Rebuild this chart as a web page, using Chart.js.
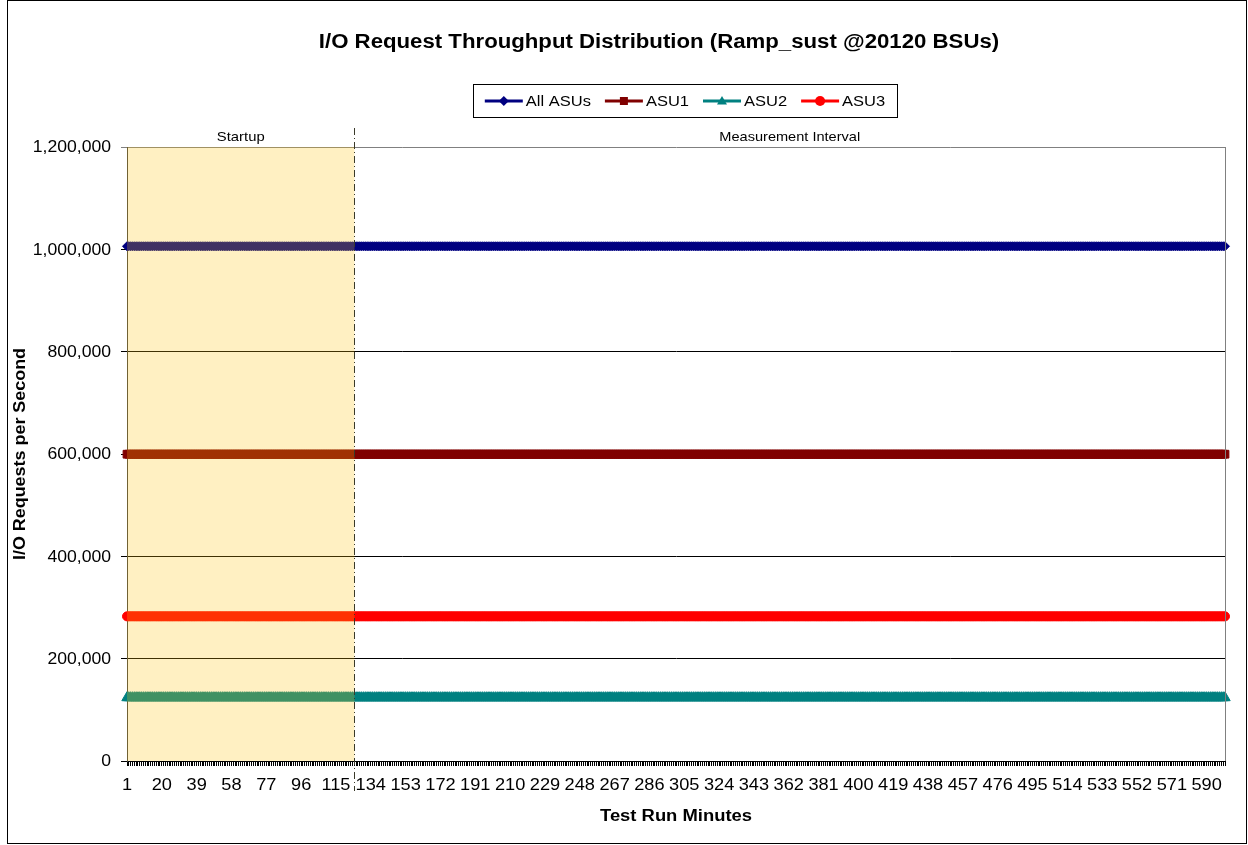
<!DOCTYPE html>
<html>
<head>
<meta charset="utf-8">
<script src="https://cdn.jsdelivr.net/npm/chart.js@4/dist/chart.umd.min.js"></script>
<style>
  html, body { margin: 0; padding: 0; background: #fff; }
</style>
</head>
<body>
<canvas id="chart-canvas" width="1248" height="845"></canvas>
<script>
// x categories: test run minutes 1..600
const minutes = []
for (let m = 1; m <= 600; m++) minutes.push(String(m))
const labelEvery = 19
const startupEnd = 125   // minute where the dash-dot divider sits

const seriesNames = ['All ASUs', 'ASU1', 'ASU2', 'ASU3']
const seriesColors = ['#000080', '#800000', '#008080', '#FF0000']
const seriesMarkers = ['rectRot', 'rect', 'triangle', 'circle']
// every series is flat over the whole run, so one level each
const seriesLevels = [1006000, 599600, 123700, 282700]
const markerRadius = [4.5, 5.5, 6, 4.5]

const yTicks = [0, 200000, 400000, 600000, 800000, 1000000, 1200000]

const FONT = '"Liberation Sans", Arial, sans-serif'
const STRETCH = 1.1   // the source renders its text a little wide

const datasets = seriesNames.map((name, i) => ({
  label: name,
  data: minutes.map(() => seriesLevels[i]),
  borderColor: seriesColors[i],
  backgroundColor: seriesColors[i],
  borderWidth: 2,
  pointStyle: seriesMarkers[i],
  pointRadius: markerRadius[i],
  pointHoverRadius: markerRadius[i],
  pointBorderWidth: 1,
  pointBackgroundColor: seriesColors[i],
  pointBorderColor: seriesColors[i],
  fill: false,
  tension: 0
}))

// wide text: scale horizontally around the anchor point
function wideText(ctx, text, x, y, align, sx) {
  ctx.save()
  ctx.translate(x, y)
  ctx.scale(sx || STRETCH, 1)
  ctx.textAlign = align
  ctx.fillText(text, 0, 0)
  ctx.restore()
}

function drawMarker(ctx, style, x, y, r, color) {
  ctx.save()
  ctx.fillStyle = color
  ctx.beginPath()
  if (style === 'rectRot') {
    ctx.moveTo(x, y - r); ctx.lineTo(x + r, y); ctx.lineTo(x, y + r); ctx.lineTo(x - r, y)
  } else if (style === 'rect') {
    ctx.rect(x - r * 0.8, y - r * 0.8, r * 1.6, r * 1.6)
  } else if (style === 'triangle') {
    ctx.moveTo(x, y - r); ctx.lineTo(x + r, y + r * 0.7); ctx.lineTo(x - r, y + r * 0.7)
  } else {
    ctx.arc(x, y, r, 0, Math.PI * 2)
  }
  ctx.closePath()
  ctx.fill()
  ctx.restore()
}

const decor = {
  id: 'decor',
  beforeDraw(chart) {
    const { ctx, width, height } = chart
    ctx.save()
    ctx.fillStyle = '#fff'
    ctx.fillRect(0, 0, width, height)
    ctx.strokeStyle = '#000'
    ctx.lineWidth = 1
    ctx.strokeRect(7.5, 0.5, width - 9, height - 2)
    ctx.restore()
  },
  afterDatasetsDraw(chart) {
    const { ctx, chartArea } = chart
    const x = chart.scales.x
    const divX = Math.round(x.getPixelForValue(minutes.indexOf(String(startupEnd)))) + 0.5
    ctx.save()
    // startup shading over the lines
    ctx.fillStyle = 'rgba(255, 196, 10, 0.25)'
    ctx.fillRect(chartArea.left, chartArea.top, divX - chartArea.left, chartArea.bottom - chartArea.top)
    // plot right border
    ctx.strokeStyle = '#808080'
    ctx.lineWidth = 1
    ctx.beginPath()
    ctx.moveTo(Math.round(chartArea.right) + 0.5, chartArea.top)
    ctx.lineTo(Math.round(chartArea.right) + 0.5, chartArea.bottom)
    ctx.stroke()
    // divider
    ctx.strokeStyle = '#3a3a2a'
    ctx.setLineDash([7, 3, 1, 3])
    ctx.beginPath()
    ctx.moveTo(divX, chartArea.top - 19)
    ctx.lineTo(divX, chartArea.bottom + 30)
    ctx.stroke()
    ctx.setLineDash([])
    // region labels
    ctx.fillStyle = '#000'
    ctx.font = '13px ' + FONT
    ctx.textBaseline = 'middle'
    wideText(ctx, 'Startup', (chartArea.left + divX) / 2, chartArea.top - 10, 'center', 1.14)
    wideText(ctx, 'Measurement Interval', (divX + chartArea.right) / 2, chartArea.top - 10, 'center', 1.12)
    ctx.restore()
  },
  afterDraw(chart) {
    const { ctx, chartArea } = chart
    const xs = chart.scales.x, ys = chart.scales.y
    ctx.save()
    ctx.fillStyle = '#000'
    ctx.textBaseline = 'middle'

    // tick labels, placed by the scales
    ctx.font = '16px ' + FONT
    yTicks.forEach(v => {
      wideText(ctx, v.toLocaleString('en-US'), 111, ys.getPixelForValue(v) + 1, 'right', 1.1)
    })
    ctx.font = '17px ' + FONT
    minutes.forEach((m, i) => {
      if (i % labelEvery === 0) wideText(ctx, m, xs.getPixelForValue(i), chartArea.bottom + 24, 'center', 1.07)
    })

    // titles
    ctx.font = 'bold 20px ' + FONT
    wideText(ctx, 'I/O Request Throughput Distribution (Ramp_sust @20120 BSUs)', 659, 42, 'center', 1.11)
    ctx.font = 'bold 16px ' + FONT
    wideText(ctx, 'Test Run Minutes', (chartArea.left + chartArea.right) / 2, 817, 'center', 1.15)
    ctx.save()
    ctx.translate(21, (chartArea.top + chartArea.bottom) / 2)
    ctx.rotate(-Math.PI / 2)
    wideText(ctx, 'I/O Requests per Second', 0, 0, 'center', 1.12)
    ctx.restore()

    // legend
    ctx.font = '15px ' + FONT
    const lineLen = 38, gap = 3, itemGap = 14
    const widths = seriesNames.map(n => lineLen + gap + ctx.measureText(n).width * STRETCH)
    const total = widths.reduce((a, b) => a + b, 0) + itemGap * (seriesNames.length - 1)
    const cx = 685, cy = 101
    ctx.strokeStyle = '#000'
    ctx.lineWidth = 1
    ctx.strokeRect(473.5, 84.5, 424, 33)
    let lx = cx - total / 2
    seriesNames.forEach((n, i) => {
      ctx.strokeStyle = seriesColors[i]
      ctx.lineWidth = 3
      ctx.beginPath()
      ctx.moveTo(lx, cy)
      ctx.lineTo(lx + lineLen, cy)
      ctx.stroke()
      drawMarker(ctx, seriesMarkers[i], lx + lineLen / 2, cy, 5, seriesColors[i])
      ctx.fillStyle = '#000'
      wideText(ctx, n, lx + lineLen + gap, cy + 1, 'left')
      lx += widths[i] + itemGap
    })
    ctx.restore()
  }
}

new Chart(document.getElementById('chart-canvas'), {
  type: 'line',
  data: { labels: minutes, datasets },
  plugins: [decor],
  options: {
    responsive: false,
    animation: false,
    events: [],
    layout: { padding: { top: 147, right: 23, bottom: 24, left: 0 } },
    plugins: { legend: { display: false }, tooltip: { enabled: false }, title: { display: false } },
    scales: {
      x: {
        type: 'category',
        offset: false,
        afterFit(scale) { scale.height = 60 },
        grid: { drawOnChartArea: false, drawTicks: true, tickLength: 5, color: '#000', lineWidth: 1 },
        border: { color: '#000', width: 1 },
        ticks: { display: false, autoSkip: false, maxRotation: 0 }
      },
      y: {
        min: 0,
        max: 1200000,
        afterFit(scale) { scale.width = 127 },
        afterBuildTicks(scale) { scale.ticks = yTicks.map(v => ({ value: v })) },
        grid: {
          color: ctx => (ctx.tick && ctx.tick.value === 1200000 ? '#808080' : '#000'),
          lineWidth: 1,
          tickLength: 6
        },
        border: { color: '#404040', width: 1 },
        ticks: { display: false }
      }
    }
  }
})
</script>
</body>
</html>
